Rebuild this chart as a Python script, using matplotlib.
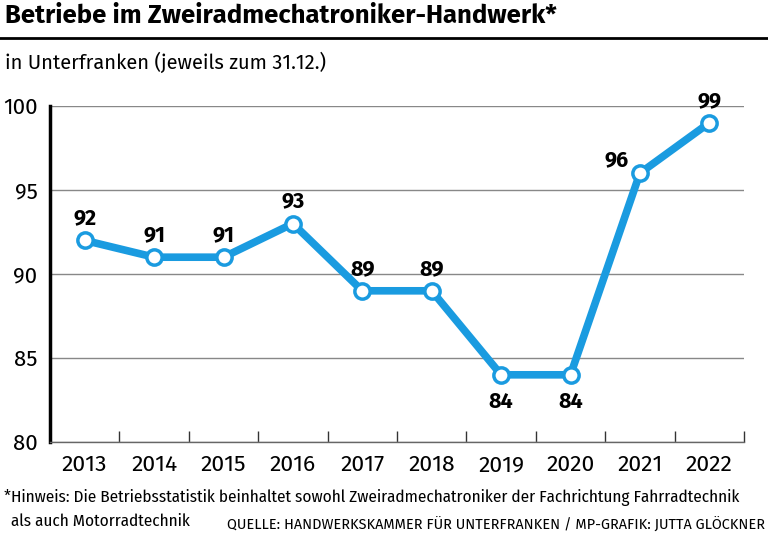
import matplotlib
matplotlib.use("Agg")
import matplotlib.pyplot as plt
from matplotlib.ticker import FixedLocator

years = ["2013", "2014", "2015", "2016", "2017", "2018", "2019", "2020", "2021", "2022"]
values = [92, 91, 91, 93, 89, 89, 84, 84, 96, 99]
yticks = [80, 85, 90, 95, 100]

plt.rcParams['font.family'] = ['Fira Sans', 'DejaVu Sans']
COND = ['Fira Sans Condensed', 'DejaVu Sans']
blue = "#1a9be0"

fig = plt.figure(figsize=(7.68, 5.41), dpi=100)
ax = fig.add_axes([50/768, 1-442/541, 694/768, 336/541])

x = list(range(len(years)))
ax.plot(x, values, color=blue, lw=5.5, marker='o', ms=11, mfc='white', mec=blue,
        mew=2.5, solid_joinstyle='round', zorder=3, clip_on=False)

for xi, v in zip(x, values):
    if years[xi] in ("2019", "2020"):
        off, va = (0, -11.5), 'top'
    elif years[xi] == "2021":
        off, va = (-17, 5), 'baseline'
    else:
        off, va = (0, 11.5), 'baseline'
    ax.annotate(str(v), (xi, v), xytext=off, textcoords='offset points',
                ha='center', va=va, fontsize=15.5, fontweight='bold', annotation_clip=False)

ax.set_xlim(-0.5, len(years) - 0.5)
ax.set_ylim(80, 100)
ax.set_yticks(yticks)
ax.set_yticklabels([str(t) for t in yticks], fontsize=16)
ax.set_xticks(x)
ax.set_xticklabels(years, fontsize=16.5)
ax.xaxis.set_minor_locator(FixedLocator([i + 0.5 for i in x]))
ax.tick_params(axis='x', which='major', length=0, pad=9)
ax.tick_params(axis='x', which='minor', direction='in', length=8, width=1, color='#333333')
ax.tick_params(axis='y', length=0, pad=9)

ax.grid(axis='y', color='#888888', lw=1)
ax.set_axisbelow(True)
for s in ['top', 'right']:
    ax.spines[s].set_visible(False)
ax.spines['left'].set_linewidth(2.5)
ax.spines['left'].set_color('black')
ax.spines['bottom'].set_color('#666666')
ax.spines['bottom'].set_linewidth(1)

fig.text(5/768, 1-23/541, "Betriebe im Zweiradmechatroniker-Handwerk*", fontsize=18.5,
         fontweight='bold', va='baseline', ha='left')
fig.add_artist(plt.Line2D([0, 1], [1-37.5/541, 1-37.5/541], color='black', lw=2))
fig.text(5/768, 1-69/541, "in Unterfranken (jeweils zum 31.12.)", fontsize=14.5,
         va='baseline', ha='left')
fig.text(4/768, 1-498/541,
         "*Hinweis: Die Betriebsstatistik beinhaltet sowohl Zweiradmechatroniker der Fachrichtung Fahrradtechnik",
         fontsize=12.3, va='center', ha='left', family=COND)
fig.text(11/768, 1-521/541, "als auch Motorradtechnik", fontsize=12.3, va='center', ha='left',
         family=COND)
fig.text(765/768, 1-525/541, "QUELLE: HANDWERKSKAMMER FÜR UNTERFRANKEN / MP-GRAFIK: JUTTA GLÖCKNER",
         fontsize=10.4, va='center', ha='right')

fig.savefig("out.png", dpi=100)
